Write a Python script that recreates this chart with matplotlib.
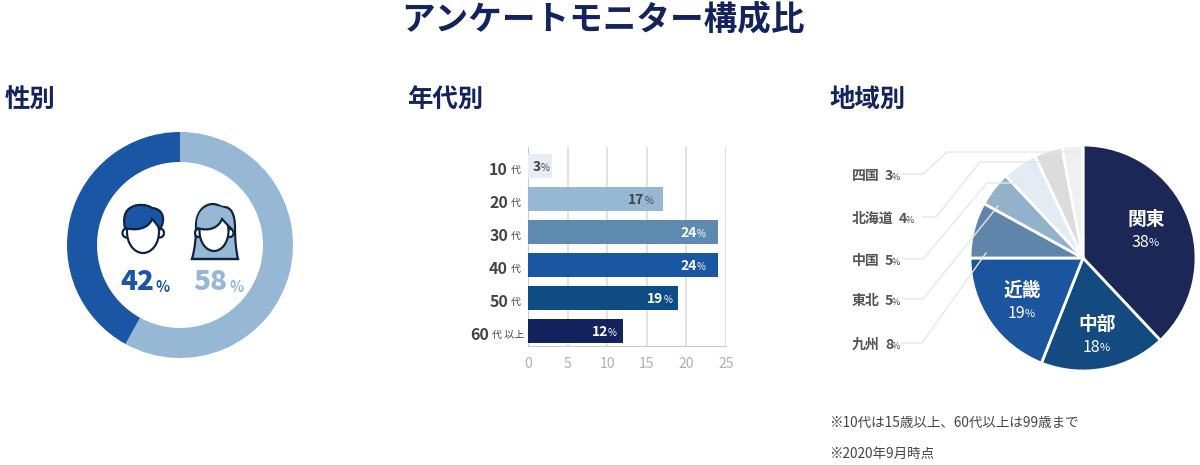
import matplotlib
matplotlib.use("Agg")
import matplotlib.pyplot as plt
from matplotlib.path import Path
from matplotlib.patches import PathPatch, Ellipse

plt.rcParams['font.family'] = ['Noto Sans CJK JP', 'DejaVu Sans']

W, H = 1200, 465
NAVY = '#14235c'
DARK = '#444444'
LINE = '#e6e6e6'
ICON = '#10243f'

# データ
gender_labels = ['女性', '男性']
gender_values = [58, 42]
gender_colors = ['#97b8d4', '#1a56a3']

age_numbers = ['10', '20', '30', '40', '50', '60']
age_suffix = ['代', '代', '代', '代', '代', '代 以上']
age_values = [3, 17, 24, 24, 19, 12]
age_colors = ['#e6edf7', '#97b8d4', '#5f8ab0', '#1a56a3', '#0f4c86', '#13235c']
age_text_colors = [DARK, DARK, 'white', 'white', 'white', 'white']
age_ticks = [0, 5, 10, 15, 20, 25]

region_names = ['関東', '中部', '近畿', '九州', '東北', '中国', '北海道', '四国']
region_values = [38, 18, 19, 8, 5, 5, 4, 3]
region_colors = ['#1a2757', '#134b80', '#1b559e', '#5f86aa', '#92b2cc', '#e3ebf5', '#dcdcdc', '#f0f0f0']

notes = ['※10代は15歳以上、60代以上は99歳まで', '※2020年9月時点']


def px_axes(fig, left, top, right, bottom):
    return fig.add_axes([left / W, 1 - bottom / H, (right - left) / W, (bottom - top) / H])


def curve(points, fc, ec=ICON, lw=1.6, z=5, closed=True):
    # points: 始点のあとは3点ずつベジェ
    codes = [Path.MOVETO] + [Path.CURVE4] * (len(points) - 1)
    verts = list(points)
    if closed:
        verts.append(points[0])
        codes.append(Path.CLOSEPOLY)
    over.add_patch(PathPatch(Path(verts, codes), fc=fc, ec=ec, lw=lw, zorder=z))


fig = plt.figure(figsize=(W / 100, H / 100), dpi=100, facecolor='white')

# 性別
ax1 = px_axes(fig, 65, 130, 295, 360)
ax1.pie(gender_values, colors=gender_colors, startangle=90, counterclock=False,
        radius=113 / 115, wedgeprops={'width': 30 / 115})
ax1.set_xlim(-1, 1)
ax1.set_ylim(-1, 1)

# 年代別
ax2 = px_axes(fig, 528, 147, 726, 346)
ypos = list(range(len(age_values)))
ax2.barh(ypos, age_values, height=0.71, color=age_colors, zorder=3)
ax2.set_xlim(0, 25)
ax2.set_ylim(5.455, -0.576)
ax2.set_xticks(age_ticks)
ax2.set_yticks([])
ax2.tick_params(axis='x', length=0, pad=8, labelsize=10, labelcolor='#b0b0b0')
ax2.grid(axis='x', color='#dddddd', lw=1.2, zorder=0)
ax2.set_axisbelow(True)
for s in ['top', 'right']:
    ax2.spines[s].set_visible(False)
for s in ['left', 'bottom']:
    ax2.spines[s].set_color('#cccccc')
label_gap = [11, 18, 21, 21, 15, 15]
for i, v in enumerate(age_values):
    ax2.annotate(str(v), (v, i), xytext=(-label_gap[i], -1), textcoords='offset pixels', ha='right', va='center',
                 fontsize=10, fontweight='bold', color=age_text_colors[i], zorder=5)
    ax2.annotate('%', (v, i), xytext=(-label_gap[i], -2), textcoords='offset pixels', ha='left', va='center',
                 fontsize=7, color=age_text_colors[i], zorder=5)

# 地域別
ax3 = px_axes(fig, 970, 145, 1196, 371)
ax3.pie(region_values, colors=region_colors, startangle=90, counterclock=False, radius=1,
        wedgeprops={'edgecolor': 'white', 'linewidth': 2})
ax3.set_xlim(-1, 1)
ax3.set_ylim(-1, 1)

# 文字とアイコンはピクセル座標で重ねる
over = fig.add_axes([0, 0, 1, 1], zorder=10)
over.set_xlim(0, W)
over.set_ylim(H, 0)
over.axis('off')

over.text(603, 20, 'アンケートモニター構成比', ha='center', va='center', fontsize=24.2, fontweight='bold', color=NAVY)
for x, t in [(5, '性別'), (407, '年代別'), (829, '地域別')]:
    over.text(x, 99, t, ha='left', va='center', fontsize=18.3, fontweight='bold', color=NAVY)

# 男性アイコン
for cx in (126.5, 160):
    over.add_patch(Ellipse((cx, 233), 8, 9, fc='white', ec=ICON, lw=1.6, zorder=4))
over.add_patch(Ellipse((143, 232), 32, 42, fc='white', ec=ICON, lw=1.6, zorder=5))
curve([(125, 228), (140, 232), (150, 226), (152, 219), (155, 222), (158, 226), (160, 229),
       (165, 222), (165, 209), (152, 208), (147, 204), (136, 204), (132, 207),
       (124, 210), (123, 220), (125, 228)], gender_colors[1], z=6)

# 女性アイコン
curve([(192, 259), (195, 248), (196, 238), (196, 226), (196, 212), (204, 204), (213, 204),
       (218, 204), (220, 207), (224, 207), (231, 207), (235, 214), (235, 228),
       (235, 240), (236, 250), (238, 259)], gender_colors[0], z=4)
over.plot([192, 238], [259, 259], color=ICON, lw=1.6, zorder=4)
for cx in (198.5, 230):
    over.add_patch(Ellipse((cx, 233), 7, 8, fc='white', ec=ICON, lw=1.6, zorder=5))
over.add_patch(Ellipse((214, 231), 29, 40, fc='white', ec=ICON, lw=1.6, zorder=6))
curve([(197, 228), (210, 232), (219, 227), (222, 219), (225, 222), (228, 226), (232, 229),
       (234, 212), (226, 206), (214, 206), (202, 206), (196, 214), (197, 228)], gender_colors[0], ec='none', z=7)
curve([(197, 228), (210, 232), (219, 227), (222, 219), (225, 222), (228, 226), (232, 229)],
      'none', z=8, closed=False)

for i, (xr, col) in enumerate([(154, gender_colors[1]), (227, gender_colors[0])]):
    val = gender_values[1 - i]
    over.text(xr, 282, str(val), ha='right', va='center', fontsize=20, fontweight=900, color=col)
    over.text(xr + 2, 287, '%', ha='left', va='center', fontsize=10.5, fontweight='bold', color=col)

# 年代ラベル
for i, n in enumerate(age_numbers):
    y = 169.5 + i * 33
    xr = 508 if i < 5 else 489
    over.text(xr, y, n, ha='right', va='center', fontsize=11.5, fontweight='bold', color=DARK)
    over.text(xr + 3, y + 0.5, age_suffix[i], ha='left', va='center', fontsize=7.2, color=DARK)

# 円グラフの内側ラベル
inside = [(1146, 219, 0), (1097, 324, 1), (1022, 290, 2)]
for x, y, i in inside:
    over.text(x, y, region_names[i], ha='center', va='center', fontsize=13.5, fontweight='bold', color='white')
    over.text(x + 3, y + 23, str(region_values[i]), ha='right', va='center', fontsize=11.5, color='white')
    over.text(x + 3, y + 24, '%', ha='left', va='center', fontsize=8, color='white')

# 外側ラベルと引き出し線
outside = [(7, 176, [(903, 174), (923, 174), (947, 152), (1077, 152)]),
           (6, 219, [(923, 217), (936, 217), (980, 162), (1040, 162)]),
           (5, 261, [(903, 259), (923, 259), (987, 183), (1018, 183)]),
           (4, 301, [(903, 299), (923, 299), (998, 206)]),
           (3, 345, [(903, 343), (922, 343), (986, 253)])]
for i, y, pts in outside:
    over.text(852, y, region_names[i], ha='left', va='center', fontsize=10, color='#555555', fontweight='bold')
    xe = 852 + 14 * len(region_names[i]) + 5
    over.text(xe, y, str(region_values[i]), ha='left', va='center', fontsize=10, color='#555555', fontweight='bold')
    over.text(xe + 7, y + 1, '%', ha='left', va='center', fontsize=6.5, color=DARK)
    over.plot([p[0] for p in pts], [p[1] for p in pts], color=LINE, lw=1, zorder=1)

# 注記
for y, t in zip([423, 454], notes):
    over.text(829, y, t, ha='left', va='center', fontsize=9.75, color=DARK)

fig.savefig('out.png', dpi=100)
